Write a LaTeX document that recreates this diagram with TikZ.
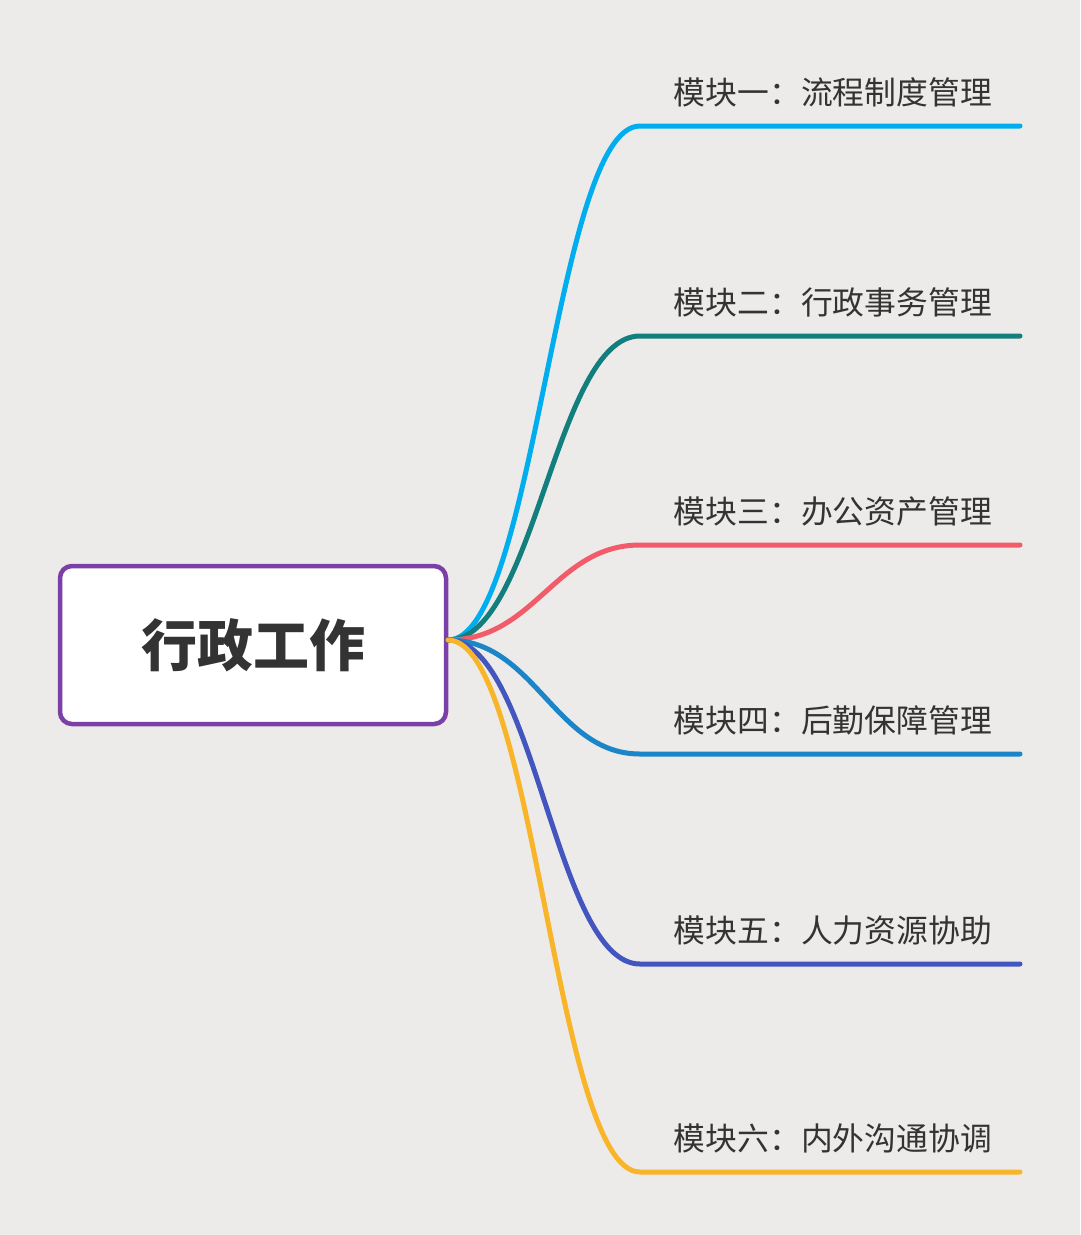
\documentclass[tikz,border=0pt]{standalone}
\usepackage{fontspec}
\setmainfont{Noto Sans CJK SC}
\definecolor{bg}{HTML}{EDEBE9}
\definecolor{purp}{HTML}{7B3FA8}
\definecolor{txt}{HTML}{333333}
\definecolor{c1}{HTML}{00AEEF}
\definecolor{c2}{HTML}{137E7E}
\definecolor{c3}{HTML}{F25C6A}
\definecolor{c4}{HTML}{1A85C8}
\definecolor{c5}{HTML}{4356C0}
\definecolor{c6}{HTML}{F9B52A}
\begin{document}
\begin{tikzpicture}[x=1pt,y=-1pt,
  branch/.style={line width=5pt,line cap=round},
  lbl/.style={anchor=south east,text=txt,font=\fontsize{31.8}{34}\selectfont,inner sep=0pt}]
\fill[bg] (0,0) rectangle (1080,1235);
\useasboundingbox (0,0) rectangle (1080,1235);
\node[draw=purp,line width=4.5pt,fill=white,rounded corners=12pt,minimum width=386pt,minimum height=158pt,text=txt,font=\fontsize{56}{60}\selectfont\bfseries] (root) at (253,645) {行政工作};
\coordinate (s) at (448,640);
\foreach \y/\c/\t [count=\i] in {126/c1/模块一：流程制度管理,336/c2/模块二：行政事务管理,545/c3/模块三：办公资产管理,754/c4/模块四：后勤保障管理,964/c5/模块五：人力资源协助,1172/c6/模块六：内外沟通协调}{
  \coordinate (m\i) at (640,\y);
  \coordinate (e\i) at (1020,\y);
  \draw[branch,\c] (s) .. controls (535,640) and (555,\y) .. (m\i) -- (e\i);
  \node[lbl] (l\i) at (992,\y-19) {\t};
}
\end{tikzpicture}
\end{document}
